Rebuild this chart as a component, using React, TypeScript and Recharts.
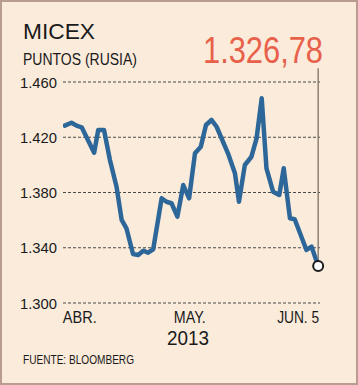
import React from "react";
import {
  LineChart,
  Line,
  XAxis,
  YAxis,
  CartesianGrid,
  ReferenceLine,
  ReferenceDot,
} from "recharts";

// Position along the time axis: days since April 1, 2013
const dayPos = [
  -4.1, -2.3, -0.9, 0.5, 3.9, 5.0, 6.6, 8.2, 10.0, 11.4, 12.7, 14.5, 15.9, 17.3,
  18.6, 20.0, 22.3, 23.6, 25.0, 26.6, 28.2, 29.8, 31.4, 33.0, 34.4, 35.9, 37.3,
  40.4, 42.3, 43.4, 45.0, 46.8, 48.2, 49.6, 50.9, 52.7, 54.4, 55.6, 57.3, 58.6,
  61.8, 63.2, 65.0,
];
// MICEX index points
const micexValues = [
  1428.4, 1430.5, 1428.4, 1427.2, 1408.8, 1425.2, 1425.2, 1403.5, 1384.2, 1360.1,
  1354.1, 1335.5, 1334.8, 1337.9, 1336.4, 1338.9, 1375.8, 1373.3, 1372.2, 1362.5,
  1385.4, 1375.8, 1408.4, 1413.2, 1428.9, 1432.5, 1427.6, 1408.4, 1393.9, 1373.3,
  1399.9, 1405.9, 1419.2, 1448.2, 1397.5, 1380.6, 1378.2, 1397.5, 1361.3, 1360.6,
  1338.4, 1340.8, 1326.78,
];
const yTicks = [1300, 1340, 1380, 1420, 1460];
const xTicks = [0, 30, 65];
const xTickLabels = ["ABR.", "MAY.", "JUN. 5"];

const title = "MICEX";
const subtitle = "PUNTOS (RUSIA)";
const lastValueLabel = "1.326,78";
const yearLabel = "2013";
const sourceLabel = "FUENTE: BLOOMBERG";

const data = dayPos.map((d, i) => ({ d, v: micexValues[i] }));
const lastDay = dayPos[dayPos.length - 1];
const lastVal = micexValues[micexValues.length - 1];

const FONT = "'Liberation Sans', Arial, sans-serif";

const fmtY = (v: number) => {
  const s = String(v);
  return s.slice(0, 1) + "." + s.slice(1);
};

const YTick = (props: any) => {
  const { y, payload } = props;
  return (
    <text
      x={57}
      y={y}
      textAnchor="end"
      dominantBaseline="central"
      fontFamily={FONT}
      fontSize={15.5}
      fill="#1a1a1a"
      textLength={37}
      lengthAdjust="spacingAndGlyphs"
    >
      {fmtY(payload.value)}
    </text>
  );
};

const XTick = (props: any) => {
  const { x, payload, index } = props;
  const isLast = index === xTicks.length - 1;
  return (
    <text
      x={isLast ? x + 1 : x}
      y={323}
      textAnchor={isLast ? "end" : "middle"}
      fontFamily={FONT}
      fontSize={16}
      fill="#1a1a1a"
      textLength={isLast ? 42 : xTickLabels[index] === "ABR." ? 34 : 32}
      lengthAdjust="spacingAndGlyphs"
    >
      {xTickLabels[index]}
    </text>
  );
};

export default function App() {
  return (
    <div
      style={{
        position: "absolute",
        left: 0,
        top: 0,
        width: 358,
        height: 385,
        background: "#FAEBDA",
        boxSizing: "border-box",
        border: "2px solid #B89C90",
      }}
    >
      <div style={{ position: "absolute", left: -2, top: -2 }}>
        <LineChart
          width={358}
          height={385}
          data={data}
          margin={{ top: 82, right: 38, bottom: 52, left: 8 }}
        >
          <CartesianGrid
            horizontal={true}
            vertical={false}
            stroke="#4a4a4a"
            strokeDasharray="3 2"
          />
          <XAxis
            dataKey="d"
            type="number"
            domain={[-4.6, 65.5]}
            ticks={xTicks}
            tick={<XTick />}
            axisLine={false}
            tickLine={false}
            height={30}
            interval={0}
            allowDataOverflow
          />
          <YAxis
            type="number"
            domain={[1300, 1460]}
            ticks={yTicks}
            tick={<YTick />}
            axisLine={false}
            tickLine={false}
            width={55}
            interval={0}
          />
          <ReferenceLine
            segment={[
              { x: lastDay, y: lastVal },
              { x: lastDay, y: 1470 },
            ]}
            stroke="#7d7065"
            strokeWidth={1.3}
            ifOverflow="visible"
          />
          <Line
            type="linear"
            dataKey="v"
            stroke="#2D6699"
            strokeWidth={4.5}
            dot={false}
            isAnimationActive={false}
            strokeLinejoin="round"
            strokeLinecap="round"
          />
          <ReferenceDot
            x={lastDay}
            y={lastVal}
            r={5}
            fill="#ffffff"
            stroke="#1a1a1a"
            strokeWidth={2}
            ifOverflow="visible"
          />
          <text x={23} y={39} fontFamily={FONT} fontSize={22.5} fill="#1a1a1a" textLength={72} lengthAdjust="spacingAndGlyphs">
            {title}
          </text>
          <text
            x={23}
            y={65}
            fontFamily={FONT}
            fontSize={16}
            fill="#1a1a1a"
            textLength={114}
            lengthAdjust="spacingAndGlyphs"
          >
            {subtitle}
          </text>
          <text
            x={323}
            y={63}
            textAnchor="end"
            fontFamily={FONT}
            fontSize={36}
            fill="#E8604A"
            textLength={120}
            lengthAdjust="spacingAndGlyphs"
          >
            {lastValueLabel}
          </text>
          <text
            x={188}
            y={345}
            textAnchor="middle"
            fontFamily={FONT}
            fontSize={20.5}
            fill="#1a1a1a"
            textLength={42}
            lengthAdjust="spacingAndGlyphs"
          >
            {yearLabel}
          </text>
          <text
            x={23}
            y={364}
            fontFamily={FONT}
            fontSize={13}
            fill="#1a1a1a"
            textLength={111}
            lengthAdjust="spacingAndGlyphs"
          >
            {sourceLabel}
          </text>
        </LineChart>
      </div>
    </div>
  );
}
